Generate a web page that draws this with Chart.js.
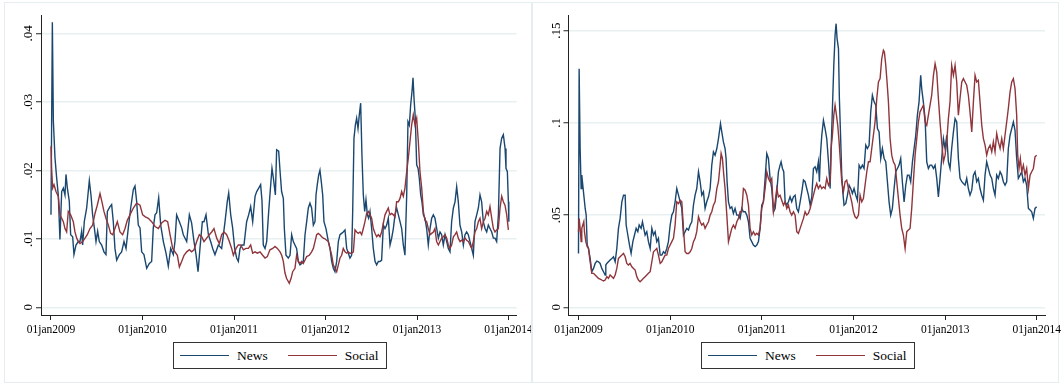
<!DOCTYPE html>
<html lang="en">
<head>
<meta charset="UTF-8">
<title>News and Social</title>
<script src="https://cdn.jsdelivr.net/npm/chart.js"></script>
<style>
  html, body { margin: 0; padding: 0; background: #fff; }
  body { width: 1061px; height: 385px; position: relative; overflow: hidden; font-family: "Liberation Serif", "Times New Roman", serif; }
  .frame { position: absolute; top: 2px; height: 381px; box-sizing: border-box; border: 1px solid #e6edef; }
  canvas { position: absolute; top: 0; }
  .legend { position: absolute; top: 342px; width: 214px; height: 27px; box-sizing: border-box; border: 1px solid #333; display: flex; align-items: center; padding-left: 6px; font-size: 13.5px; color: #000; background: #fff; }
  .legend .key { display: inline-block; width: 49px; height: 0; border-top: 1.4px solid; margin-right: 8px; }
  .legend .name + .key { margin-left: 20px; }
</style>
</head>
<body>
<div class="frame" style="left:4px;width:528px"></div>
<div class="frame" style="left:532px;width:527px"></div>
<canvas id="chartLeft" width="531" height="385" style="left:0"></canvas>
<canvas id="chartRight" width="530" height="385" style="left:531px"></canvas>
<div class="legend" id="legendLeft" style="left:173px"></div>
<div class="legend" id="legendRight" style="left:701px"></div>

<script>
// x ticks (years) and their labels
const xTicks = [2009, 2010, 2011, 2012, 2013, 2014];
const xTickLabels = ['01jan2009', '01jan2010', '01jan2011', '01jan2012', '01jan2013', '01jan2014'];

const yTicksLeft = [0, 0.01, 0.02, 0.03, 0.04];
const yTickLabelsLeft = ['0', '.01', '.02', '.03', '.04'];
const yTicksRight = [0, 0.05, 0.1, 0.15];
const yTickLabelsRight = ['0', '.05', '.1', '.15'];

const seriesNames = ['News', 'Social'];
const seriesColors = ['#1a476f', '#90353b'];

// left panel, News
const newsDatesLeft = [
  2009.000,2009.015,2009.026,2009.044,2009.062,2009.080,2009.098,2009.117,2009.135,2009.153,
  2009.164,2009.179,2009.200,2009.215,2009.237,2009.251,2009.273,2009.299,2009.317,2009.335,
  2009.346,2009.364,2009.390,2009.419,2009.437,2009.455,2009.474,2009.492,2009.510,2009.528,
  2009.554,2009.579,2009.601,2009.616,2009.645,2009.663,2009.681,2009.699,2009.718,2009.747,
  2009.772,2009.798,2009.820,2009.845,2009.871,2009.900,2009.918,2009.936,2009.954,2009.973,
  2009.991,2010.016,2010.046,2010.075,2010.100,2010.118,2010.137,2010.155,2010.177,2010.199,
  2010.228,2010.257,2010.282,2010.308,2010.337,2010.355,2010.373,2010.403,2010.428,2010.446,
  2010.483,2010.512,2010.537,2010.563,2010.585,2010.607,2010.628,2010.654,2010.672,2010.694,
  2010.720,2010.745,2010.767,2010.792,2010.829,2010.865,2010.902,2010.927,2010.942,2010.964,
  2010.985,2011.007,2011.029,2011.047,2011.066,2011.087,2011.109,2011.138,2011.160,2011.182,
  2011.204,2011.230,2011.248,2011.270,2011.291,2011.306,2011.320,2011.339,2011.357,2011.379,
  2011.401,2011.415,2011.430,2011.452,2011.466,2011.488,2011.503,
  2011.520,2011.539,2011.550,2011.568,2011.593,2011.612,2011.630,2011.648,2011.666,2011.684,
  2011.703,2011.721,2011.739,2011.757,2011.776,2011.794,2011.812,2011.830,2011.848,2011.867,
  2011.885,2011.896,2011.910,2011.925,2011.939,2011.954,2011.969,2011.983,2012.005,2012.031,
  2012.049,2012.067,2012.085,2012.103,2012.122,2012.140,2012.158,2012.176,2012.194,2012.213,
  2012.231,2012.249,2012.267,2012.285,2012.296,2012.311,2012.326,2012.340,2012.355,2012.369,
  2012.384,2012.398,2012.413,2012.428,2012.442,2012.457,2012.471,2012.486,2012.504,2012.522,
  2012.541,2012.559,2012.577,2012.595,2012.613,2012.632,2012.650,2012.668,2012.686,2012.705,
  2012.723,2012.741,2012.759,2012.777,2012.796,2012.814,2012.832,2012.850,2012.868,2012.887,
  2012.901,2012.916,2012.930,2012.945,2012.956,2012.967,2012.981,2012.996,2013.011,2013.025,
  2013.040,2013.054,2013.069,2013.087,2013.105,2013.123,2013.142,2013.160,2013.178,2013.196,
  2013.215,2013.233,2013.251,2013.269,2013.287,2013.306,2013.324,2013.342,2013.360,2013.378,
  2013.397,2013.415,2013.433,2013.451,2013.469,2013.488,2013.506,2013.524,2013.542,2013.560,
  2013.579,2013.597,2013.615,2013.633,2013.652,2013.670,2013.688,2013.706,2013.724,2013.743,
  2013.761,2013.779,2013.797,2013.816,2013.834,2013.852,2013.870,2013.889,2013.907,2013.925,
  2013.943,2013.962,2013.972,2013.987,2013.998,2014.003
];
const newsValuesLeft = [
  .0135,.0416,.0272,.0218,.0189,.0164,.0099,.0169,.0174,.0164,
  .0194,.0174,.0155,.0106,.0103,.0077,.0091,.0096,.0096,.0111,
  .0091,.0125,.0145,.0185,.0164,.0135,.0116,.0096,.0111,.0096,
  .0091,.0081,.0077,.0140,.0147,.0150,.0125,.0086,.0069,.0077,
  .0081,.0096,.0086,.0116,.0145,.0172,.0177,.0155,.0120,.0116,
  .0081,.0077,.0057,.0064,.0067,.0116,.0135,.0138,.0160,.0120,
  .0096,.0079,.0060,.0086,.0077,.0096,.0135,.0125,.0116,.0106,
  .0096,.0135,.0123,.0096,.0077,.0052,.0086,.0125,.0125,.0135,
  .0106,.0096,.0086,.0077,.0091,.0086,.0125,.0155,.0167,.0135,
  .0116,.0086,.0072,.0067,.0086,.0091,.0091,.0125,.0135,.0147,
  .0125,.0162,.0169,.0174,.0179,.0155,.0091,.0086,.0096,.0140,
  .0179,.0203,.0189,.0164,.0230,.0228,.0199,
  .0169,.0159,.0115,.0076,.0072,.0076,.0106,.0096,.0091,.0086,
  .0067,.0062,.0064,.0067,.0106,.0125,.0145,.0152,.0145,.0120,
  .0125,.0164,.0179,.0193,.0200,.0183,.0164,.0125,.0115,.0096,
  .0086,.0067,.0057,.0052,.0067,.0096,.0106,.0108,.0110,.0113,
  .0086,.0079,.0072,.0076,.0135,.0247,.0266,.0276,.0261,.0281,
  .0298,.0222,.0164,.0140,.0157,.0135,.0130,.0140,.0115,.0086,
  .0067,.0062,.0067,.0067,.0069,.0120,.0115,.0120,.0130,.0091,
  .0101,.0115,.0135,.0145,.0135,.0125,.0115,.0091,.0076,.0164,
  .0271,.0266,.0295,.0315,.0335,.0305,.0276,.0208,.0203,.0188,
  .0164,.0154,.0135,.0130,.0115,.0091,.0115,.0130,.0135,.0130,
  .0115,.0101,.0110,.0106,.0091,.0106,.0096,.0086,.0081,.0125,
  .0145,.0154,.0176,.0154,.0120,.0110,.0091,.0106,.0110,.0106,
  .0096,.0086,.0076,.0125,.0135,.0145,.0164,.0154,.0125,.0115,
  .0110,.0120,.0115,.0110,.0101,.0101,.0096,.0135,.0232,.0247,
  .0252,.0232,.0203,.0198,.0154,.0125
];

// left panel, Social
const socialDatesLeft = [
  2009.000,2009.007,2009.018,2009.033,2009.055,2009.080,2009.098,2009.117,2009.135,2009.153,
  2009.171,2009.189,2009.215,2009.244,2009.262,2009.281,2009.299,2009.317,2009.346,2009.372,
  2009.397,2009.426,2009.455,2009.481,2009.506,2009.536,2009.557,2009.579,2009.601,2009.627,
  2009.652,2009.674,2009.699,2009.725,2009.754,2009.783,2009.809,2009.834,2009.863,2009.900,
  2009.936,2009.973,2010.002,2010.031,2010.064,2010.100,2010.137,2010.173,2010.209,2010.246,
  2010.275,2010.301,2010.330,2010.355,2010.381,2010.403,2010.428,2010.454,2010.483,2010.512,
  2010.537,2010.563,2010.592,2010.621,2010.647,2010.672,2010.701,2010.730,2010.756,2010.781,
  2010.811,2010.840,2010.865,2010.891,2010.920,2010.949,2010.974,2010.993,2011.022,2011.047,
  2011.073,2011.102,2011.131,2011.157,2011.182,2011.204,2011.230,2011.255,2011.284,2011.313,
  2011.339,2011.364,2011.393,2011.423,2011.448,2011.474,2011.503,
  2011.521,2011.539,2011.557,2011.575,2011.604,2011.623,2011.641,2011.666,2011.684,2011.703,
  2011.721,2011.739,2011.757,2011.776,2011.794,2011.823,2011.848,2011.867,2011.885,2011.903,
  2011.921,2011.939,2011.958,2011.976,2011.994,2012.012,2012.031,2012.049,2012.067,2012.085,
  2012.103,2012.122,2012.140,2012.158,2012.176,2012.194,2012.213,2012.231,2012.249,2012.267,
  2012.286,2012.304,2012.322,2012.340,2012.358,2012.377,2012.395,2012.413,2012.431,2012.449,
  2012.468,2012.486,2012.504,2012.522,2012.541,2012.559,2012.577,2012.595,2012.613,2012.632,
  2012.650,2012.668,2012.686,2012.704,2012.723,2012.741,2012.759,2012.777,2012.796,2012.814,
  2012.832,2012.850,2012.868,2012.887,2012.905,2012.923,2012.941,2012.959,2012.978,2012.996,
  2013.014,2013.032,2013.051,2013.069,2013.087,2013.105,2013.123,2013.142,2013.160,2013.178,
  2013.196,2013.214,2013.233,2013.251,2013.269,2013.287,2013.306,2013.324,2013.342,2013.360,
  2013.378,2013.397,2013.415,2013.433,2013.451,2013.470,2013.488,2013.506,2013.524,2013.542,
  2013.561,2013.579,2013.597,2013.615,2013.633,2013.652,2013.670,2013.688,2013.706,2013.725,
  2013.743,2013.761,2013.779,2013.797,2013.816,2013.834,2013.852,2013.870,2013.888,2013.907,
  2013.925,2013.943,2013.961,2013.980,2013.998
];
const socialValuesLeft = [
  .0235,.0203,.0174,.0179,.0169,.0162,.0135,.0130,.0125,.0115,
  .0110,.0140,.0135,.0125,.0110,.0101,.0096,.0093,.0096,.0101,
  .0106,.0115,.0120,.0137,.0149,.0166,.0154,.0140,.0130,.0120,
  .0108,.0106,.0115,.0125,.0110,.0106,.0115,.0127,.0135,.0145,
  .0152,.0149,.0135,.0132,.0130,.0125,.0118,.0115,.0123,.0127,
  .0125,.0106,.0086,.0081,.0076,.0059,.0067,.0076,.0081,.0084,
  .0081,.0084,.0096,.0106,.0103,.0096,.0101,.0106,.0110,.0115,
  .0101,.0093,.0106,.0110,.0106,.0096,.0086,.0076,.0086,.0091,
  .0091,.0084,.0086,.0086,.0091,.0079,.0081,.0079,.0081,.0076,
  .0072,.0074,.0084,.0086,.0089,.0086,.0081,
  .0076,.0067,.0050,.0042,.0035,.0042,.0052,.0057,.0076,.0067,
  .0064,.0067,.0064,.0069,.0074,.0076,.0081,.0086,.0096,.0106,
  .0108,.0106,.0103,.0101,.0100,.0098,.0096,.0086,.0076,.0062,
  .0057,.0052,.0062,.0072,.0076,.0086,.0081,.0079,.0081,.0079,
  .0079,.0081,.0113,.0110,.0108,.0110,.0106,.0115,.0125,.0137,
  .0140,.0135,.0130,.0115,.0108,.0103,.0106,.0103,.0110,.0123,
  .0135,.0140,.0145,.0135,.0137,.0135,.0132,.0154,.0154,.0159,
  .0169,.0162,.0174,.0198,.0218,.0242,.0266,.0281,.0266,.0276,
  .0242,.0198,.0174,.0140,.0127,.0125,.0115,.0106,.0108,.0110,
  .0115,.0096,.0091,.0096,.0101,.0103,.0106,.0101,.0091,.0086,
  .0091,.0103,.0106,.0110,.0101,.0096,.0098,.0096,.0101,.0098,
  .0096,.0091,.0086,.0096,.0110,.0115,.0125,.0130,.0115,.0125,
  .0130,.0140,.0135,.0147,.0130,.0115,.0110,.0113,.0115,.0145,
  .0162,.0154,.0149,.0135,.0113
];

// right panel, News
const newsDatesRight = [
  2009.000,2009.007,2009.018,2009.029,2009.036,2009.047,2009.058,2009.073,2009.084,2009.095,
  2009.109,2009.127,2009.145,2009.164,2009.182,2009.200,2009.218,2009.236,2009.254,2009.273,
  2009.291,2009.298,2009.309,2009.327,2009.345,2009.364,2009.382,2009.400,2009.418,2009.436,
  2009.454,2009.473,2009.491,2009.509,2009.520,2009.538,2009.556,2009.574,2009.593,2009.611,
  2009.629,2009.647,2009.662,2009.683,2009.698,2009.712,2009.727,2009.745,2009.763,2009.782,
  2009.800,2009.818,2009.836,2009.854,2009.872,2009.891,2009.909,2009.927,2009.945,2009.963,
  2009.981,2010.000,2010.018,2010.036,2010.054,2010.072,2010.091,2010.109,2010.127,2010.145,
  2010.163,2010.181,2010.200,2010.218,2010.236,2010.254,2010.272,2010.290,2010.309,2010.327,
  2010.345,2010.363,2010.381,2010.399,2010.418,2010.436,2010.454,2010.472,2010.490,2010.509,
  2010.527,2010.549,2010.563,2010.581,2010.599,2010.610,2010.621,2010.636,2010.654,2010.672,
  2010.690,2010.708,2010.727,2010.745,2010.763,2010.781,2010.799,2010.818,2010.836,2010.854,
  2010.872,2010.890,2010.908,2010.927,2010.945,2010.963,2010.981,2010.999,2011.017,2011.036,
  2011.054,2011.072,2011.090,2011.108,2011.127,2011.145,2011.163,2011.181,2011.199,2011.210,
  2011.225,2011.239,2011.254,2011.272,2011.290,2011.308,2011.326,2011.345,
  2011.363,2011.381,2011.399,2011.418,2011.436,2011.454,2011.472,2011.490,2011.508,2011.527,
  2011.545,2011.563,2011.581,2011.599,2011.617,2011.628,2011.639,2011.654,2011.672,2011.690,
  2011.708,2011.727,2011.745,2011.756,2011.770,2011.785,2011.799,2011.810,2011.821,2011.836,
  2011.846,2011.861,2011.872,2011.883,2011.897,2011.916,2011.934,2011.952,2011.970,2011.988,
  2012.006,2012.025,2012.043,2012.061,2012.079,2012.097,2012.115,2012.134,2012.152,2012.170,
  2012.188,2012.206,2012.225,2012.243,2012.261,2012.279,2012.297,2012.315,2012.334,2012.352,
  2012.370,2012.388,2012.406,2012.424,2012.443,2012.461,2012.479,2012.497,2012.515,2012.533,
  2012.552,2012.570,2012.588,2012.606,2012.624,2012.643,2012.661,2012.679,2012.697,2012.715,
  2012.733,2012.744,2012.762,2012.781,2012.799,2012.817,2012.835,2012.853,2012.872,2012.890,
  2012.908,2012.926,2012.944,2012.962,2012.981,2012.999,2013.017,2013.035,2013.053,2013.071,
  2013.090,2013.108,2013.126,2013.144,2013.162,2013.181,2013.199,2013.217,2013.235,2013.253,
  2013.271,2013.290,2013.308,2013.326,2013.344,2013.362,2013.380,2013.399,2013.417,2013.435,
  2013.453,2013.471,2013.490,2013.508,2013.526,2013.544,2013.562,2013.580,2013.599,2013.617,
  2013.635,2013.653,2013.671,2013.689,2013.708,2013.726,2013.744,2013.762,2013.780,2013.798,
  2013.817,2013.835,2013.853,2013.871,2013.889,2013.908,2013.926,2013.944,2013.962,2013.980,
  2013.998
];
const newsValuesRight = [
  .0292,.1294,.0861,.0644,.0717,.0662,.0608,.0536,.0500,.0338,
  .0319,.0265,.0193,.0211,.0238,.0251,.0247,.0238,.0211,.0193,
  .0175,.0229,.0238,.0247,.0256,.0265,.0274,.0247,.0319,.0428,
  .0482,.0572,.0608,.0608,.0446,.0392,.0338,.0292,.0356,.0392,
  .0428,.0410,.0446,.0428,.0464,.0428,.0392,.0410,.0356,.0319,
  .0428,.0392,.0410,.0356,.0374,.0283,.0283,.0301,.0292,.0319,
  .0356,.0446,.0500,.0518,.0572,.0644,.0608,.0572,.0536,.0392,
  .0410,.0428,.0419,.0446,.0464,.0554,.0608,.0644,.0735,.0681,
  .0608,.0626,.0536,.0572,.0599,.0644,.0771,.0843,.0825,.0861,
  .0915,.0996,.0951,.0897,.0861,.0807,.0681,.0572,.0536,.0545,
  .0509,.0536,.0500,.0500,.0482,.0536,.0518,.0518,.0500,.0464,
  .0374,.0356,.0338,.0329,.0338,.0356,.0428,.0554,.0572,.0699,
  .0834,.0807,.0699,.0644,.0518,.0536,.0626,.0735,.0771,.0789,
  .0753,.0735,.0572,.0554,.0572,.0599,.0572,.0599,
  .0608,.0536,.0518,.0572,.0626,.0690,.0681,.0644,.0608,.0554,
  .0599,.0753,.0762,.0735,.0789,.0681,.0825,.0933,.1014,.0969,
  .0915,.0789,.0644,.0861,.1078,.1312,.1475,.1538,.1457,.1403,
  .1132,.0897,.0717,.0626,.0554,.0563,.0608,.0662,.0644,.0617,
  .0644,.0608,.0581,.0771,.0753,.0771,.0753,.0879,.0861,.0879,
  .1060,.1150,.1114,.1096,.0969,.0951,.0807,.0861,.0807,.0789,
  .0681,.0572,.0500,.0536,.0644,.0735,.0753,.0771,.0807,.0681,
  .0572,.0662,.0717,.0717,.0681,.0789,.0861,.0933,.1042,.1114,
  .1258,.1186,.1114,.1023,.0789,.0753,.0771,.0771,.0753,.0771,
  .0699,.0599,.0699,.0807,.0915,.0861,.0933,.0789,.0753,.0861,
  .0951,.1023,.1005,.0807,.0699,.0681,.0671,.0662,.0699,.0644,
  .0608,.0635,.0717,.0735,.0681,.0699,.0644,.0608,.0581,.0717,
  .0789,.0753,.0717,.0699,.0644,.0608,.0717,.0699,.0735,.0717,
  .0681,.0662,.0681,.0861,.0933,.0969,.1005,.0960,.0807,.0699,
  .0717,.0735,.0681,.0699,.0662,.0536,.0527,.0518,.0482,.0536,
  .0545
];

// right panel, Social
const socialDatesRight = [
  2009.000,2009.007,2009.018,2009.029,2009.036,2009.047,2009.058,2009.065,2009.080,2009.095,
  2009.109,2009.127,2009.145,2009.164,2009.182,2009.200,2009.218,2009.236,2009.254,2009.273,
  2009.291,2009.309,2009.327,2009.345,2009.364,2009.382,2009.400,2009.418,2009.436,2009.454,
  2009.473,2009.491,2009.509,2009.527,2009.545,2009.563,2009.582,2009.600,2009.618,2009.636,
  2009.654,2009.672,2009.691,2009.709,2009.727,2009.745,2009.763,2009.782,2009.800,2009.818,
  2009.836,2009.854,2009.872,2009.891,2009.909,2009.927,2009.945,2009.963,2009.981,2010.000,
  2010.018,2010.036,2010.054,2010.072,2010.091,2010.109,2010.127,2010.145,2010.163,2010.181,
  2010.200,2010.218,2010.236,2010.254,2010.272,2010.290,2010.309,2010.327,2010.345,2010.363,
  2010.381,2010.399,2010.418,2010.436,2010.454,2010.472,2010.490,2010.509,2010.527,2010.545,
  2010.556,2010.570,2010.585,2010.599,2010.618,2010.636,2010.654,2010.672,2010.690,2010.708,
  2010.727,2010.745,2010.763,2010.781,2010.799,2010.818,2010.836,2010.854,2010.872,2010.890,
  2010.908,2010.927,2010.945,2010.963,2010.981,2010.999,2011.017,2011.036,2011.054,2011.072,
  2011.090,2011.108,2011.127,2011.145,2011.163,2011.181,2011.199,2011.217,2011.236,2011.254,
  2011.272,2011.290,2011.308,2011.326,2011.345,
  2011.363,2011.381,2011.399,2011.418,2011.436,2011.454,2011.472,2011.490,2011.508,2011.527,
  2011.545,2011.563,2011.581,2011.599,2011.617,2011.636,2011.654,2011.672,2011.690,2011.708,
  2011.727,2011.745,2011.756,2011.770,2011.785,2011.799,2011.814,2011.828,2011.843,2011.857,
  2011.872,2011.890,2011.908,2011.926,2011.945,2011.963,2011.981,2011.999,2012.017,2012.035,
  2012.054,2012.072,2012.090,2012.108,2012.126,2012.145,2012.163,2012.181,2012.199,2012.217,
  2012.235,2012.254,2012.272,2012.290,2012.308,2012.326,2012.337,2012.352,2012.366,2012.381,
  2012.399,2012.417,2012.435,2012.454,2012.472,2012.490,2012.508,2012.526,2012.544,2012.563,
  2012.581,2012.599,2012.617,2012.635,2012.653,2012.672,2012.690,2012.708,2012.726,2012.744,
  2012.762,2012.781,2012.799,2012.817,2012.835,2012.853,2012.872,2012.890,2012.908,2012.926,
  2012.944,2012.962,2012.981,2012.999,2013.017,2013.035,2013.053,2013.071,2013.090,2013.108,
  2013.126,2013.144,2013.162,2013.181,2013.199,2013.217,2013.235,2013.253,2013.271,2013.290,
  2013.308,2013.326,2013.344,2013.362,2013.380,2013.399,2013.417,2013.435,2013.453,2013.471,
  2013.490,2013.508,2013.526,2013.544,2013.562,2013.580,2013.599,2013.617,2013.635,2013.653,
  2013.671,2013.689,2013.708,2013.726,2013.744,2013.762,2013.780,2013.791,2013.806,2013.820,
  2013.835,2013.853,2013.871,2013.889,2013.908,2013.926,2013.944,2013.962,2013.980,2013.998
];
const socialValuesRight = [
  .0410,.0482,.0428,.0356,.0428,.0446,.0464,.0410,.0356,.0329,
  .0319,.0247,.0184,.0184,.0175,.0166,.0157,.0153,.0148,.0143,
  .0148,.0166,.0157,.0175,.0166,.0157,.0175,.0211,.0265,.0274,
  .0283,.0292,.0274,.0238,.0229,.0238,.0220,.0211,.0202,.0166,
  .0148,.0139,.0148,.0157,.0166,.0175,.0184,.0193,.0247,.0301,
  .0310,.0319,.0283,.0238,.0247,.0265,.0283,.0283,.0319,.0338,
  .0356,.0374,.0446,.0572,.0563,.0581,.0572,.0428,.0301,.0292,
  .0292,.0301,.0319,.0356,.0374,.0410,.0491,.0464,.0446,.0455,
  .0428,.0446,.0464,.0500,.0518,.0554,.0572,.0644,.0681,.0771,
  .0834,.0807,.0717,.0644,.0500,.0356,.0392,.0428,.0446,.0428,
  .0464,.0482,.0518,.0518,.0644,.0635,.0608,.0554,.0428,.0392,
  .0410,.0392,.0401,.0392,.0428,.0536,.0572,.0644,.0735,.0699,
  .0681,.0699,.0518,.0572,.0644,.0599,.0608,.0581,.0554,.0572,
  .0536,.0554,.0518,.0500,.0518,
  .0500,.0410,.0401,.0428,.0455,.0482,.0518,.0500,.0509,.0536,
  .0572,.0608,.0644,.0671,.0644,.0662,.0644,.0653,.0644,.0699,
  .0662,.0681,.0861,.0933,.1042,.1096,.1042,.0987,.0897,.0789,
  .0681,.0626,.0681,.0690,.0644,.0608,.0572,.0518,.0491,.0482,
  .0500,.0608,.0572,.0590,.0662,.0735,.0789,.0789,.0861,.0933,
  .1005,.1132,.1222,.1240,.1348,.1394,.1384,.1312,.1222,.1114,
  .0915,.0825,.0789,.0771,.0681,.0590,.0500,.0428,.0392,.0319,
  .0410,.0419,.0428,.0536,.0681,.0825,.0915,.1005,.1060,.1078,
  .1096,.1005,.0987,.1042,.1096,.1150,.1258,.1321,.1276,.1132,
  .1005,.0897,.0789,.0825,.0897,.1023,.1114,.1312,.1258,.1312,
  .1222,.1042,.1132,.1222,.1240,.1222,.1204,.1150,.1060,.0951,
  .1114,.1258,.1222,.1231,.1114,.0987,.0915,.0879,.0825,.0861,
  .0879,.0843,.0897,.0843,.0942,.0897,.0861,.0915,.0861,.0933,
  .1005,.1078,.1168,.1222,.1240,.1186,.1042,.0825,.0753,.0807,
  .0735,.0771,.0717,.0753,.0644,.0717,.0735,.0753,.0816,.0825
];

const X_MIN = 2008.891, X_MAX = 2014.089;
const AXIS_COLOR = '#222';
const GRID_COLOR = '#e8f0f2';

function toPoints(dates, values) {
  return dates.map((d, i) => ({ x: d, y: values[i] }));
}

function drawPanel(canvasId, news, social, yTicks, yLabels, yMin, yMax, yAxisWidth, padRight) {
  const ctx = document.getElementById(canvasId).getContext('2d');
  return new Chart(ctx, {
    type: 'line',
    data: {
      datasets: [
        { label: seriesNames[0], data: news, borderColor: seriesColors[0], order: 2 },
        { label: seriesNames[1], data: social, borderColor: seriesColors[1], order: 1 }
      ]
    },
    options: {
      responsive: false,
      animation: false,
      layout: { padding: { top: 15, right: padRight, bottom: 0, left: 0 } },
      elements: {
        line: { borderWidth: 1.4, tension: 0, fill: false },
        point: { radius: 0 }
      },
      plugins: { legend: { display: false }, tooltip: { enabled: false } },
      scales: {
        x: {
          type: 'linear',
          min: X_MIN,
          max: X_MAX,
          afterBuildTicks: s => { s.ticks = xTicks.map(v => ({ value: v })); },
          afterFit: s => { s.height = 70; s.paddingLeft = 0; s.paddingRight = 0; },
          ticks: {
            autoSkip: false,
            maxRotation: 0,
            minRotation: 0,
            padding: 3,
            color: '#000',
            font: { family: 'Liberation Serif', size: 11.5 },
            callback: (v, i) => xTickLabels[i]
          },
          grid: { display: true, drawOnChartArea: false, drawTicks: true, tickLength: 5, tickColor: AXIS_COLOR, tickWidth: 1 },
          border: { display: true, color: AXIS_COLOR, width: 1 }
        },
        y: {
          type: 'linear',
          min: yMin,
          max: yMax,
          afterBuildTicks: s => { s.ticks = yTicks.map(v => ({ value: v })); },
          afterFit: s => { s.width = yAxisWidth; s.paddingTop = 0; s.paddingBottom = 0; },
          ticks: {
            minRotation: 90,
            maxRotation: 90,
            crossAlign: 'center',
            padding: -1,
            color: '#000',
            font: { family: 'Liberation Serif', size: 13 },
            callback: (v, i) => yLabels[i]
          },
          grid: { color: GRID_COLOR, lineWidth: 1.5, tickLength: 5, tickColor: AXIS_COLOR, tickWidth: 1 },
          border: { display: true, color: AXIS_COLOR, width: 1 }
        }
      }
    }
  });
}

function buildLegend(id) {
  const box = document.getElementById(id);
  seriesNames.forEach((name, i) => {
    const key = document.createElement('span');
    key.className = 'key';
    key.style.borderTopColor = seriesColors[i];
    const label = document.createElement('span');
    label.className = 'name';
    label.textContent = name;
    box.appendChild(key);
    box.appendChild(label);
  });
}

drawPanel('chartLeft', toPoints(newsDatesLeft, newsValuesLeft), toPoints(socialDatesLeft, socialValuesLeft),
  yTicksLeft, yTickLabelsLeft, -0.00112, 0.04267, 41, 14.3);
drawPanel('chartRight', toPoints(newsDatesRight, newsValuesRight), toPoints(socialDatesRight, socialValuesRight),
  yTicksRight, yTickLabelsRight, -0.00418, 0.15851, 37.5, 16);

buildLegend('legendLeft');
buildLegend('legendRight');
</script>
</body>
</html>
